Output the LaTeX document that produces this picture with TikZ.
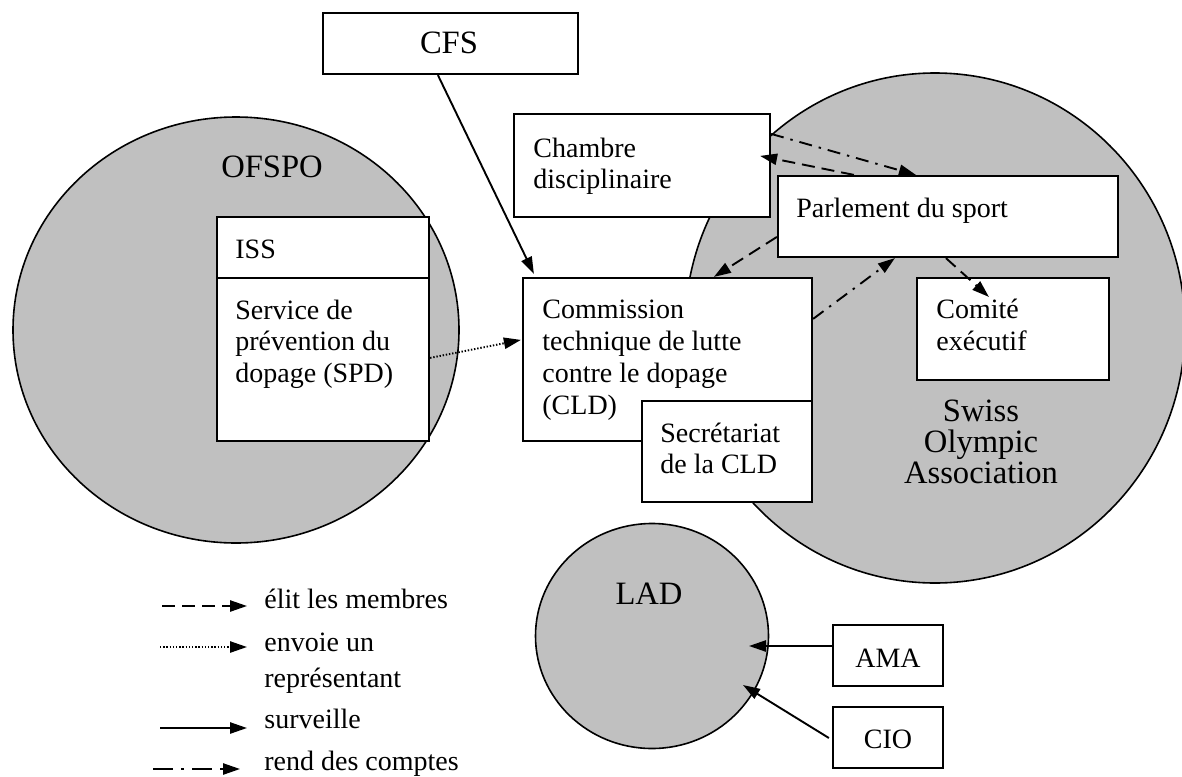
\documentclass[tikz,border=0pt]{standalone}
\usepackage{fontspec}
\setmainfont{Liberation Serif}
\usetikzlibrary{shapes.geometric,arrows.meta,calc}
\definecolor{orggray}{RGB}{192,192,192}
\begin{document}
\begin{tikzpicture}[x=0.5pt,y=-0.5pt,
  org/.style={ellipse,draw,line width=0.8pt,fill=orggray,inner sep=0pt},
  box/.style={rectangle,draw,line width=1.1pt,fill=white,inner sep=0pt},
  txt/.style={anchor=base west,inner sep=0pt,font=\fontsize{14}{15.75}\selectfont},
  big/.style={anchor=base,inner sep=0pt,font=\fontsize{16.3}{16}\selectfont},
  mid/.style={anchor=base,inner sep=0pt,font=\fontsize{14}{15.75}\selectfont},
  conn/.style={line width=0.95pt,-{Triangle[length=8.5pt,width=5.6pt]}},
  elit/.style={conn,dash pattern=on 6.5pt off 3.5pt},
  envoie/.style={conn,dash pattern=on 0.7pt off 0.9pt},
  surv/.style={conn},
  rend/.style={conn,dash pattern=on 6.5pt off 3.5pt on 1.2pt off 3.5pt},
  rendleg/.style={conn,dash pattern=on 10pt off 4pt on 1.5pt off 4pt},
]
\useasboundingbox (0,0) rectangle (1182,776);

% organisations
\node[org,minimum width=223pt,minimum height=213pt] (ofspo) at (236,330) {};
\node[org,minimum width=250pt,minimum height=255pt] (soa) at (935,328) {};
\node[org,minimum width=116.5pt,minimum height=112.5pt] (lad) at (652,636) {};

\node[big] (ofspoL) at (272,177) {OFSPO};
\node[big] (lad1) at (649,604) {LAD};
\node[big] (soa1) at (981,421) {Swiss};
\node[big] (soa2) at (981,452) {Olympic};
\node[big] (soa3) at (981,483) {Association};

% boxes
\node[box,minimum width=127.5pt,minimum height=30.5pt] (cfs) at (450.5,43.5) {};
\node[big] (cfsL) at (449,53) {CFS};

\node[box,minimum width=128pt,minimum height=51.5pt] (chambre) at (642,165.5) {};
\node[txt] (ch1) at (533,157) {Chambre};
\node[txt] (ch2) at (533,188) {disciplinaire};

\node[box,minimum width=170pt,minimum height=40.5pt] (parl) at (948,216.5) {};
\node[txt] (pa1) at (796,217) {Parlement du sport};

\node[box,minimum width=96pt,minimum height=51pt] (comite) at (1013,329) {};
\node[txt] (co1) at (936,318) {Comité};
\node[txt] (co2) at (936,350) {exécutif};

\node[box,minimum width=144.5pt,minimum height=81.5pt] (cld) at (667.5,359.5) {};
\node[txt] (cl1) at (542,318) {Commission};
\node[txt] (cl2) at (542,350) {technique de lutte};
\node[txt] (cl3) at (542,382) {contre le dopage};
\node[txt] (cl4) at (542,414) {(CLD)};

\node[box,minimum width=85pt,minimum height=50.5pt] (secr) at (727,451.5) {};
\node[txt] (se1) at (660,442) {Secrétariat};
\node[txt] (se2) at (660,473) {de la CLD};

\node[box,minimum width=106pt,minimum height=30.5pt] (iss) at (323,247.5) {};
\node[txt] (is1) at (235,258) {ISS};
\node[box,minimum width=106pt,minimum height=81.5pt] (spd) at (323,359.5) {};
\node[txt] (sp1) at (235,319) {Service de};
\node[txt] (sp2) at (235,350) {prévention du};
\node[txt] (sp3) at (235,382) {dopage (SPD)};

\node[box,minimum width=55pt,minimum height=30.5pt] (ama) at (888,655.5) {};
\node[mid] (amaL) at (888,667) {AMA};
\node[box,minimum width=55pt,minimum height=30.5pt] (cio) at (888,737.5) {};
\node[mid] (cioL) at (888,748) {CIO};

% connectors
\draw[rend] ($(chambre.north east)+(0,21)$) -- ($(parl.north west)+(139,0)$);
\draw[elit] ($(parl.north west)+(77,0)$) -- ($(chambre.north east)+(-11,43)$);
\draw[elit] ($(parl.north west)+(0,62)$) -- ($(cld.north west)+(192,0)$);
\draw[rend] ($(cld.north east)+(0,42)$) -- ($(parl.south west)+(118,0)$);
\draw[elit] ($(parl.south west)+(169,0)$) -- ($(comite.north west)+(73,20)$);
\draw[surv] ($(cfs.south west)+(116,0)$) -- ($(cld.north west)+(12,-3)$);
\draw[envoie] ($(spd.north east)+(0,81)$) -- ($(cld.north west)+(-1,63)$);
\draw[surv] ($(ama.west)+(0,-9.5)$) -- ($(lad.center)+(97,10)$);
\draw[surv] ($(cio.west)+(-3,0.5)$) -- ($(lad.center)+(91,49)$);

% legend
\coordinate (l1a) at (162,606); \coordinate (l1b) at (247,606);
\coordinate (l2a) at (160,647); \coordinate (l2b) at (247,647);
\coordinate (l3a) at (160,728); \coordinate (l3b) at (247,728);
\coordinate (l4a) at (153,769); \coordinate (l4b) at (240,769);
\draw[elit] (l1a) -- (l1b);
\draw[envoie] (l2a) -- (l2b);
\draw[surv] (l3a) -- (l3b);
\draw[rendleg] (l4a) -- (l4b);
\node[txt] (lg1) at (264,608) {élit les membres};
\node[txt] (lg2) at (264,651) {envoie un};
\node[txt] (lg3) at (264,687) {représentant};
\node[txt] (lg4) at (264,728) {surveille};
\node[txt] (lg5) at (264,770) {rend des comptes};
\end{tikzpicture}
\end{document}
